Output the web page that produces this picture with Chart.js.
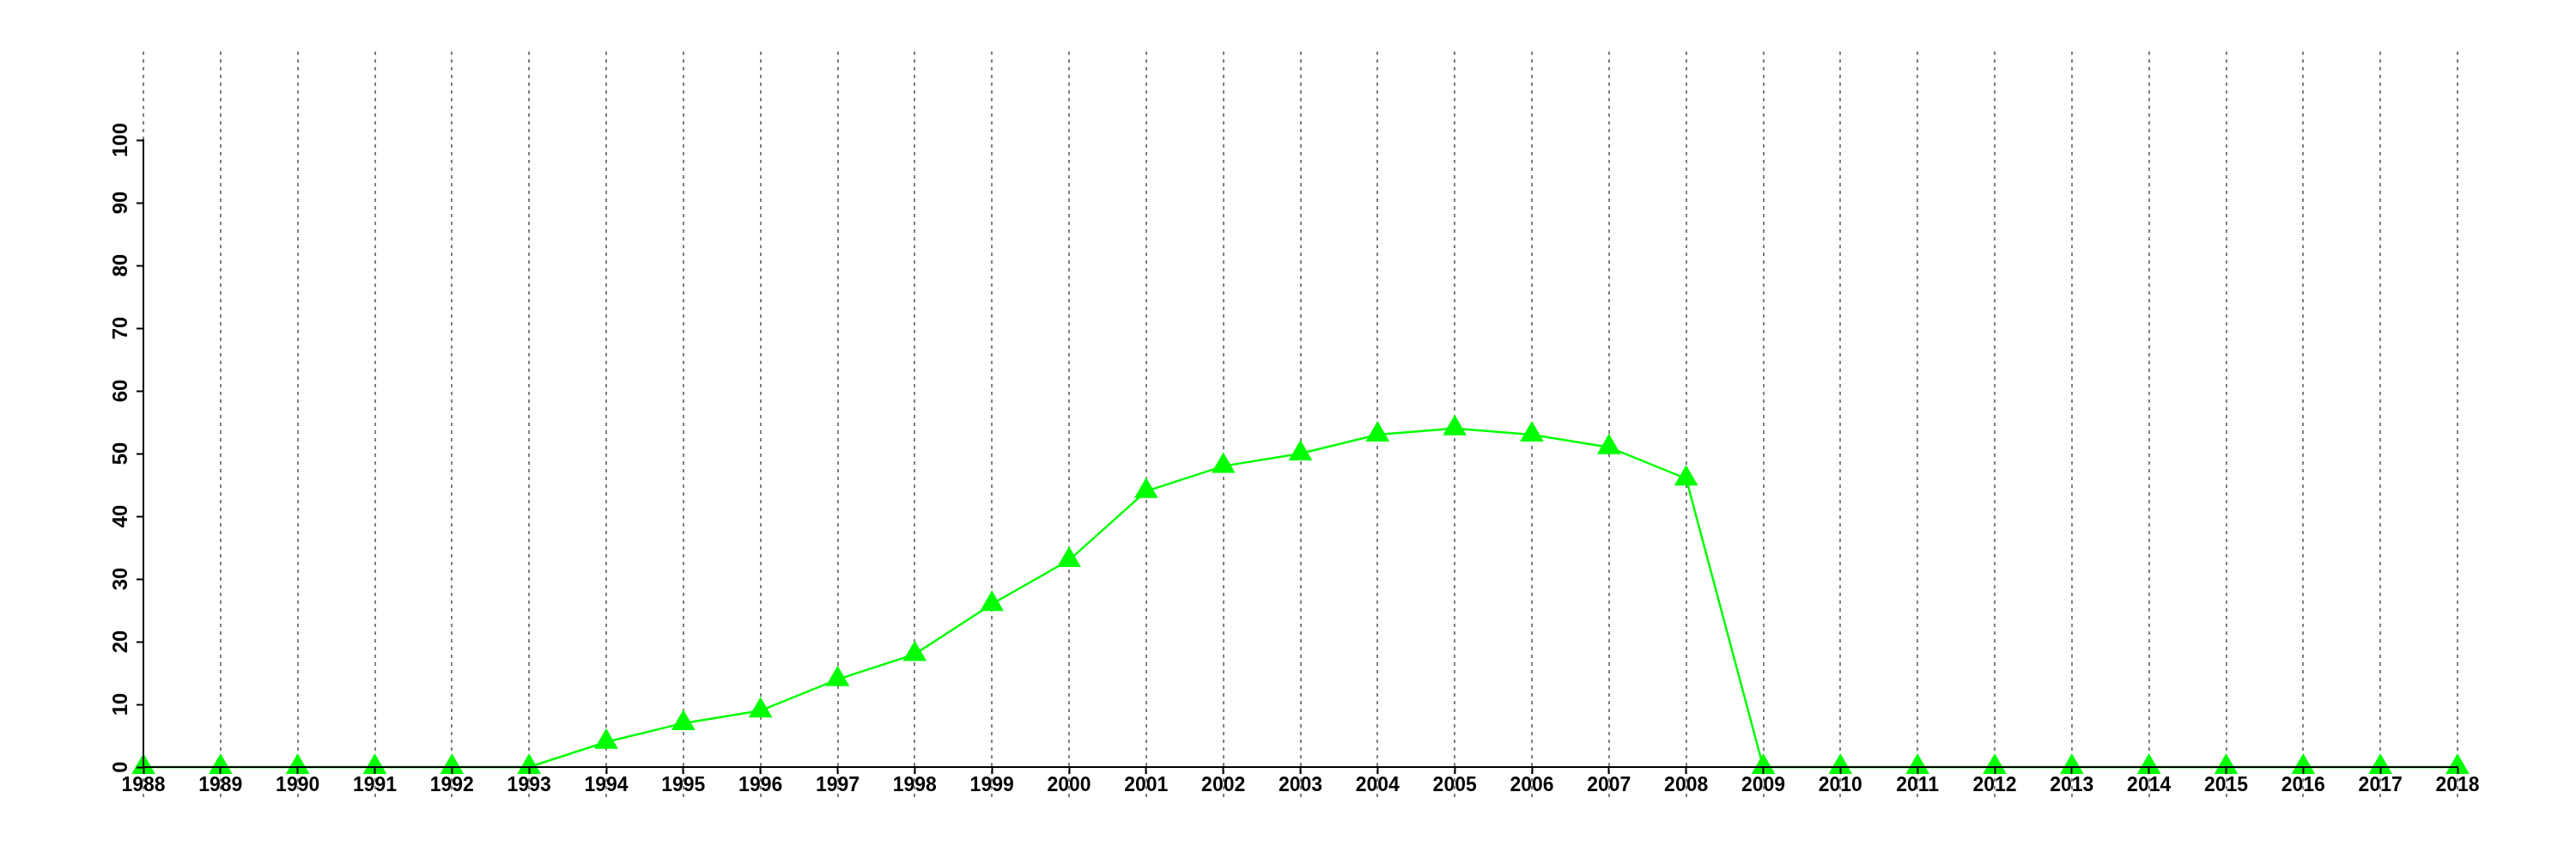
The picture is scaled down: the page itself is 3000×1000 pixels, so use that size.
<!DOCTYPE html>
<html>
<head>
<meta charset="utf-8">
<script src="https://cdn.jsdelivr.net/npm/chart.js@4.4.0/dist/chart.umd.min.js"></script>
<style>
  html, body { margin: 0; padding: 0; background: #fff; }
  #wrap { width: 3000px; height: 1000px; position: relative; }
</style>
</head>
<body>
<div id="wrap"><canvas id="chart"></canvas></div>
<script>
// ── DATA ──
const YEARS = [
  '1988', '1989', '1990', '1991', '1992', '1993', '1994', '1995', '1996', '1997',
  '1998', '1999', '2000', '2001', '2002', '2003', '2004', '2005', '2006', '2007',
  '2008', '2009', '2010', '2011', '2012', '2013', '2014', '2015', '2016', '2017', '2018'
];
const VALUES = [
  0, 0, 0, 0, 0, 0, 4, 7, 9, 14,
  18, 26, 33, 44, 48, 50, 53, 54, 53, 51,
  46, 0, 0, 0, 0, 0, 0, 0, 0, 0, 0
];
const Y_MIN = 0;
const Y_MAX = 100;
const Y_STEP = 10;

const GREEN = '#00ff00';
const FONT = "'Liberation Sans', Arial, sans-serif";

// dotted vertical guides, running past the plot top and under the labels
const dottedGrid = {
  id: 'dottedGrid',
  beforeDatasetsDraw(chart) {
    const xs = chart.scales.x;
    const ctx = chart.ctx;
    ctx.save();
    ctx.strokeStyle = '#808080';
    ctx.lineWidth = 2;
    ctx.setLineDash([4, 5]);
    xs.ticks.forEach((t, i) => {
      const px = Math.round(xs.getPixelForTick(i));
      ctx.beginPath();
      ctx.moveTo(px, 60);
      ctx.lineTo(px, 928);
      ctx.stroke();
    });
    ctx.restore();
  }
};

new Chart(document.getElementById('chart'), {
  type: 'line',
  data: {
    labels: YEARS,
    datasets: [{
      data: VALUES,
      borderColor: GREEN,
      backgroundColor: GREEN,
      borderWidth: 2.5,
      pointStyle: 'triangle',
      pointRadius: 16,
      pointBackgroundColor: GREEN,
      pointBorderColor: GREEN,
      pointBorderWidth: 0,
      tension: 0,
      fill: false,
      clip: false,
    }]
  },
  options: {
    responsive: true,
    maintainAspectRatio: false,
    animation: false,
    layout: { padding: { left: 0, right: 138, top: 163, bottom: 0 } },
    plugins: {
      legend: { display: false },
      tooltip: { enabled: false },
    },
    scales: {
      x: {
        offset: false,
        afterFit: s => { s.height = 107; },
        border: { color: '#000', width: 2, z: 1 },
        grid: {
          z: 1,
          drawOnChartArea: false,
          drawTicks: true,
          tickLength: 8,
          tickColor: '#000',
          tickWidth: 2,
        },
        ticks: {
          z: 1,
          color: '#000',
          autoSkip: false,
          maxRotation: 0,
          padding: 0,
          font: { family: FONT, size: 23, weight: 'bold' },
        }
      },
      y: {
        min: Y_MIN,
        max: Y_MAX,
        afterFit: s => { s.width = 167; },
        border: { color: '#000', width: 2, z: 1 },
        grid: {
          z: 1,
          drawOnChartArea: false,
          drawTicks: true,
          tickLength: 8,
          tickColor: '#000',
          tickWidth: 2,
        },
        ticks: {
          z: 1,
          stepSize: Y_STEP,
          color: '#000',
          minRotation: 90,
          maxRotation: 90,
          crossAlign: 'center',
          padding: -2,
          font: { family: FONT, size: 24, weight: 'bold' },
        }
      }
    }
  },
  plugins: [dottedGrid]
});
</script>
</body>
</html>
